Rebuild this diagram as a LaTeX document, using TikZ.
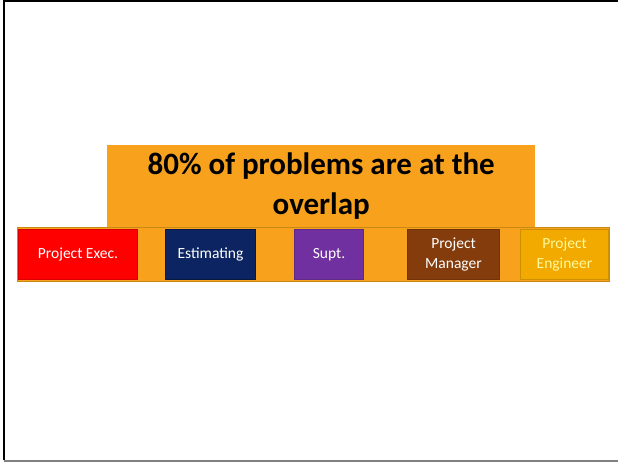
\documentclass[tikz,border=0pt]{standalone}
\usepackage{fontspec}
\setmainfont{Carlito}
\usetikzlibrary{positioning}

\definecolor{overlap}{HTML}{F8A11D}
\definecolor{overlapline}{HTML}{C98A14}
\definecolor{execred}{HTML}{FF0000}
\definecolor{estnavy}{HTML}{0C2461}
\definecolor{suptpurple}{HTML}{7030A0}
\definecolor{pmbrown}{HTML}{843C0C}
\definecolor{pegold}{HTML}{F2A900}

\begin{document}
\begin{tikzpicture}[
    x=1pt, y=-1pt,
    banner/.style={fill=overlap, anchor=north west, inner sep=0pt,
                   minimum width=428pt, minimum height=82pt, align=center,
                   font=\fontsize{31}{40}\selectfont\bfseries},
    strip/.style={fill=overlap, draw=overlapline, line width=1.2pt,
                  anchor=north west, inner sep=0pt,
                  minimum width=592pt, minimum height=54pt},
    role/.style={anchor=north west, inner sep=0pt, align=center,
                 minimum height=50pt, text=white, line width=1pt,
                 font=\fontsize{15.5}{20}\selectfont}
]
    \useasboundingbox (0,0) rectangle (618,462);
    % page frame
    \draw[line width=2pt] (3.5,460) -- (3.5,1.5) -- (618,1.5);
    \draw[gray, line width=2pt] (3.5,460.5) -- (618,460.5);

    \node[banner] (claim) at (107,145) {80\% of problems are at the\\overlap};
    \node[strip] (roles) at (17,227) {};

    \node[role, fill=execred, draw=execred!85!black, minimum width=119pt]
        (exec) at (18,229) {Project Exec.};
    \node[role, fill=estnavy, draw=estnavy!70!black, minimum width=90pt]
        (estimating) at (165,229) {Estimating};
    \node[role, fill=suptpurple, draw=suptpurple!85!black, minimum width=69pt]
        (supt) at (294,229) {Supt.};
    \node[role, fill=pmbrown, draw=pmbrown!85!black, minimum width=92pt]
        (manager) at (407,229) {Project\\Manager};
    \node[role, fill=pegold, draw=pegold!85!black, text=yellow!40,
          minimum width=88pt]
        (engineer) at (520,229) {Project\\Engineer};
\end{tikzpicture}
\end{document}
